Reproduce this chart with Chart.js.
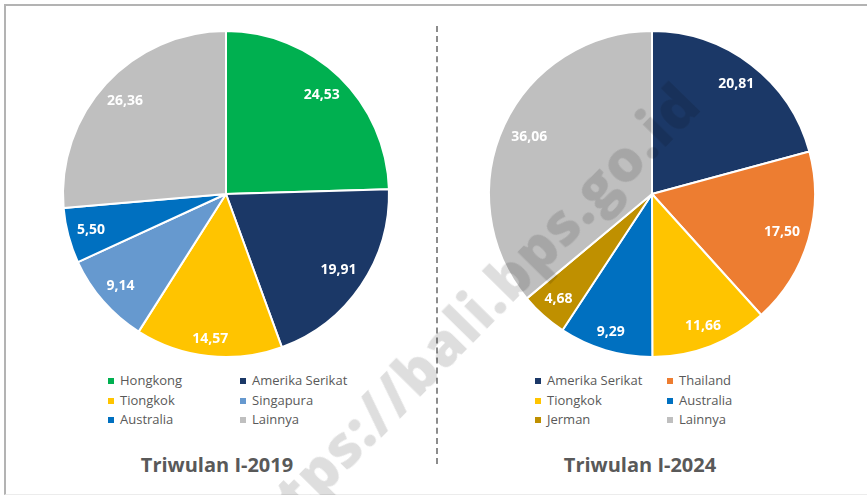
<!DOCTYPE html>
<html lang="id">
<head>
<meta charset="utf-8">
<title>Wisman Triwulan I</title>
<script src="https://cdn.jsdelivr.net/npm/chart.js@4.4.1/dist/chart.umd.min.js"></script>
<style>
  html, body { margin: 0; padding: 0; background: #fff; }
  body { width: 867px; height: 495px; position: relative; overflow: hidden; font-family: "Open Sans", sans-serif; }
  .bingkai { position: absolute; left: 4px; top: 4px; width: 880px; height: 488px;
    border-left: 2px solid #b3b3b3; border-top: 2px solid #b3b3b3; border-bottom: 1px solid #ececec; }
  .pie { position: absolute; top: 24px; width: 340px; height: 340px; }
  .pemisah { position: absolute; left: 436px; top: 26px; height: 438px; width: 0;
    border-left: 2px dashed #8c8c8c; }
  .legenda { position: absolute; top: 371px; display: grid; grid-template-columns: 132px 132px; row-gap: 0; }
  .legenda div { height: 19.7px; line-height: 19.7px; font-size: 13px; color: #595959; white-space: nowrap; }
  .legenda span { display: inline-block; width: 6px; height: 6px; margin-right: 6px; vertical-align: 1px; }
  .judul { position: absolute; top: 451px; transform: translateX(-50%); font-size: 20px; font-weight: 700;
    color: #595959; white-space: nowrap; }
  .watermark { position: absolute; left: 462px; top: 322px; transform: translate(-50%, -50%) rotate(-45.5deg);
    font-size: 58px; font-weight: 800; letter-spacing: 1px; color: rgba(0, 0, 0, 0.13);
    white-space: nowrap; pointer-events: none; }
</style>
</head>
<body>
<div class="bingkai"></div>
<div class="pie" style="left:56px"><canvas id="pie-2019"></canvas></div>
<div class="pie" style="left:482px"><canvas id="pie-2024"></canvas></div>
<div class="pemisah"></div>
<div class="legenda" id="leg-2019" style="left:108px"></div>
<div class="legenda" id="leg-2024" style="left:535px"></div>
<div class="judul" style="left:217px">Triwulan I-2019</div>
<div class="judul" style="left:640px">Triwulan I-2024</div>
<div class="watermark">https://bali.bps.go.id</div>

<script>
// ===== DATA =====
const kategori2019 = ["Hongkong", "Amerika Serikat", "Tiongkok", "Singapura", "Australia", "Lainnya"];
const nilai2019 = [24.53, 19.91, 14.57, 9.14, 5.50, 26.36];

const kategori2024 = ["Amerika Serikat", "Thailand", "Tiongkok", "Australia", "Jerman", "Lainnya"];
const nilai2024 = [20.81, 17.50, 11.66, 9.29, 4.68, 36.06];

// ===== WARNA =====
const warnaNegara = {
  "Hongkong": "#00b050",
  "Amerika Serikat": "#1b3867",
  "Tiongkok": "#ffc400",
  "Singapura": "#6699cf",
  "Australia": "#0070c0",
  "Thailand": "#ed7d31",
  "Jerman": "#bf9000",
  "Lainnya": "#bfbfbf",
};

// label angka di dalam irisan, digeser ke luar sejauh masih muat
const labelIrisan = {
  id: "labelIrisan",
  afterDatasetsDraw(chart) {
    const ctx = chart.ctx;
    const meta = chart.getDatasetMeta(0);
    const nilai = chart.data.datasets[0].data;
    ctx.save();
    ctx.font = "bold 14px 'Open Sans'";
    ctx.fillStyle = "#ffffff";
    ctx.textAlign = "center";
    ctx.textBaseline = "middle";
    meta.data.forEach((arc, i) => {
      const { x, y, startAngle, endAngle, outerRadius } =
        arc.getProps(["x", "y", "startAngle", "endAngle", "outerRadius"], true);
      const teks = nilai[i].toFixed(2).replace(".", ",");
      const w = ctx.measureText(teks).width / 2;
      const h = 6.5;
      const mid = (startAngle + endAngle) / 2;
      const dx = Math.cos(mid), dy = Math.sin(mid);
      const batas = outerRadius - 8;
      let d = batas;
      for (; d > 0; d -= 0.5) {
        const cx = d * dx + Math.sign(dx) * w;
        const cy = d * dy + Math.sign(dy) * h;
        if (Math.hypot(cx, cy) <= batas) break;
      }
      ctx.fillText(teks, x + d * dx, y + d * dy);
    });
    ctx.restore();
  }
};

function buatPie(id, kategori, nilai) {
  const ctx = document.getElementById(id).getContext("2d");
  return new Chart(ctx, {
    type: "pie",
    data: {
      labels: kategori,
      datasets: [{
        data: nilai,
        backgroundColor: kategori.map(k => warnaNegara[k]),
        borderColor: "#ffffff",
        borderWidth: 2,
      }]
    },
    options: {
      responsive: true,
      maintainAspectRatio: false,
      animation: false,
      layout: { padding: 6 },
      plugins: {
        legend: { display: false },
        tooltip: { enabled: false },
      },
    },
    plugins: [labelIrisan],
  });
}

function buatLegenda(id, kategori) {
  const box = document.getElementById(id);
  kategori.forEach(k => {
    const item = document.createElement("div");
    const kotak = document.createElement("span");
    kotak.style.background = warnaNegara[k];
    item.appendChild(kotak);
    item.appendChild(document.createTextNode(k));
    box.appendChild(item);
  });
}

// ===== INIT =====
buatPie("pie-2019", kategori2019, nilai2019);
buatPie("pie-2024", kategori2024, nilai2024);
buatLegenda("leg-2019", kategori2019);
buatLegenda("leg-2024", kategori2024);
</script>
</body>
</html>
